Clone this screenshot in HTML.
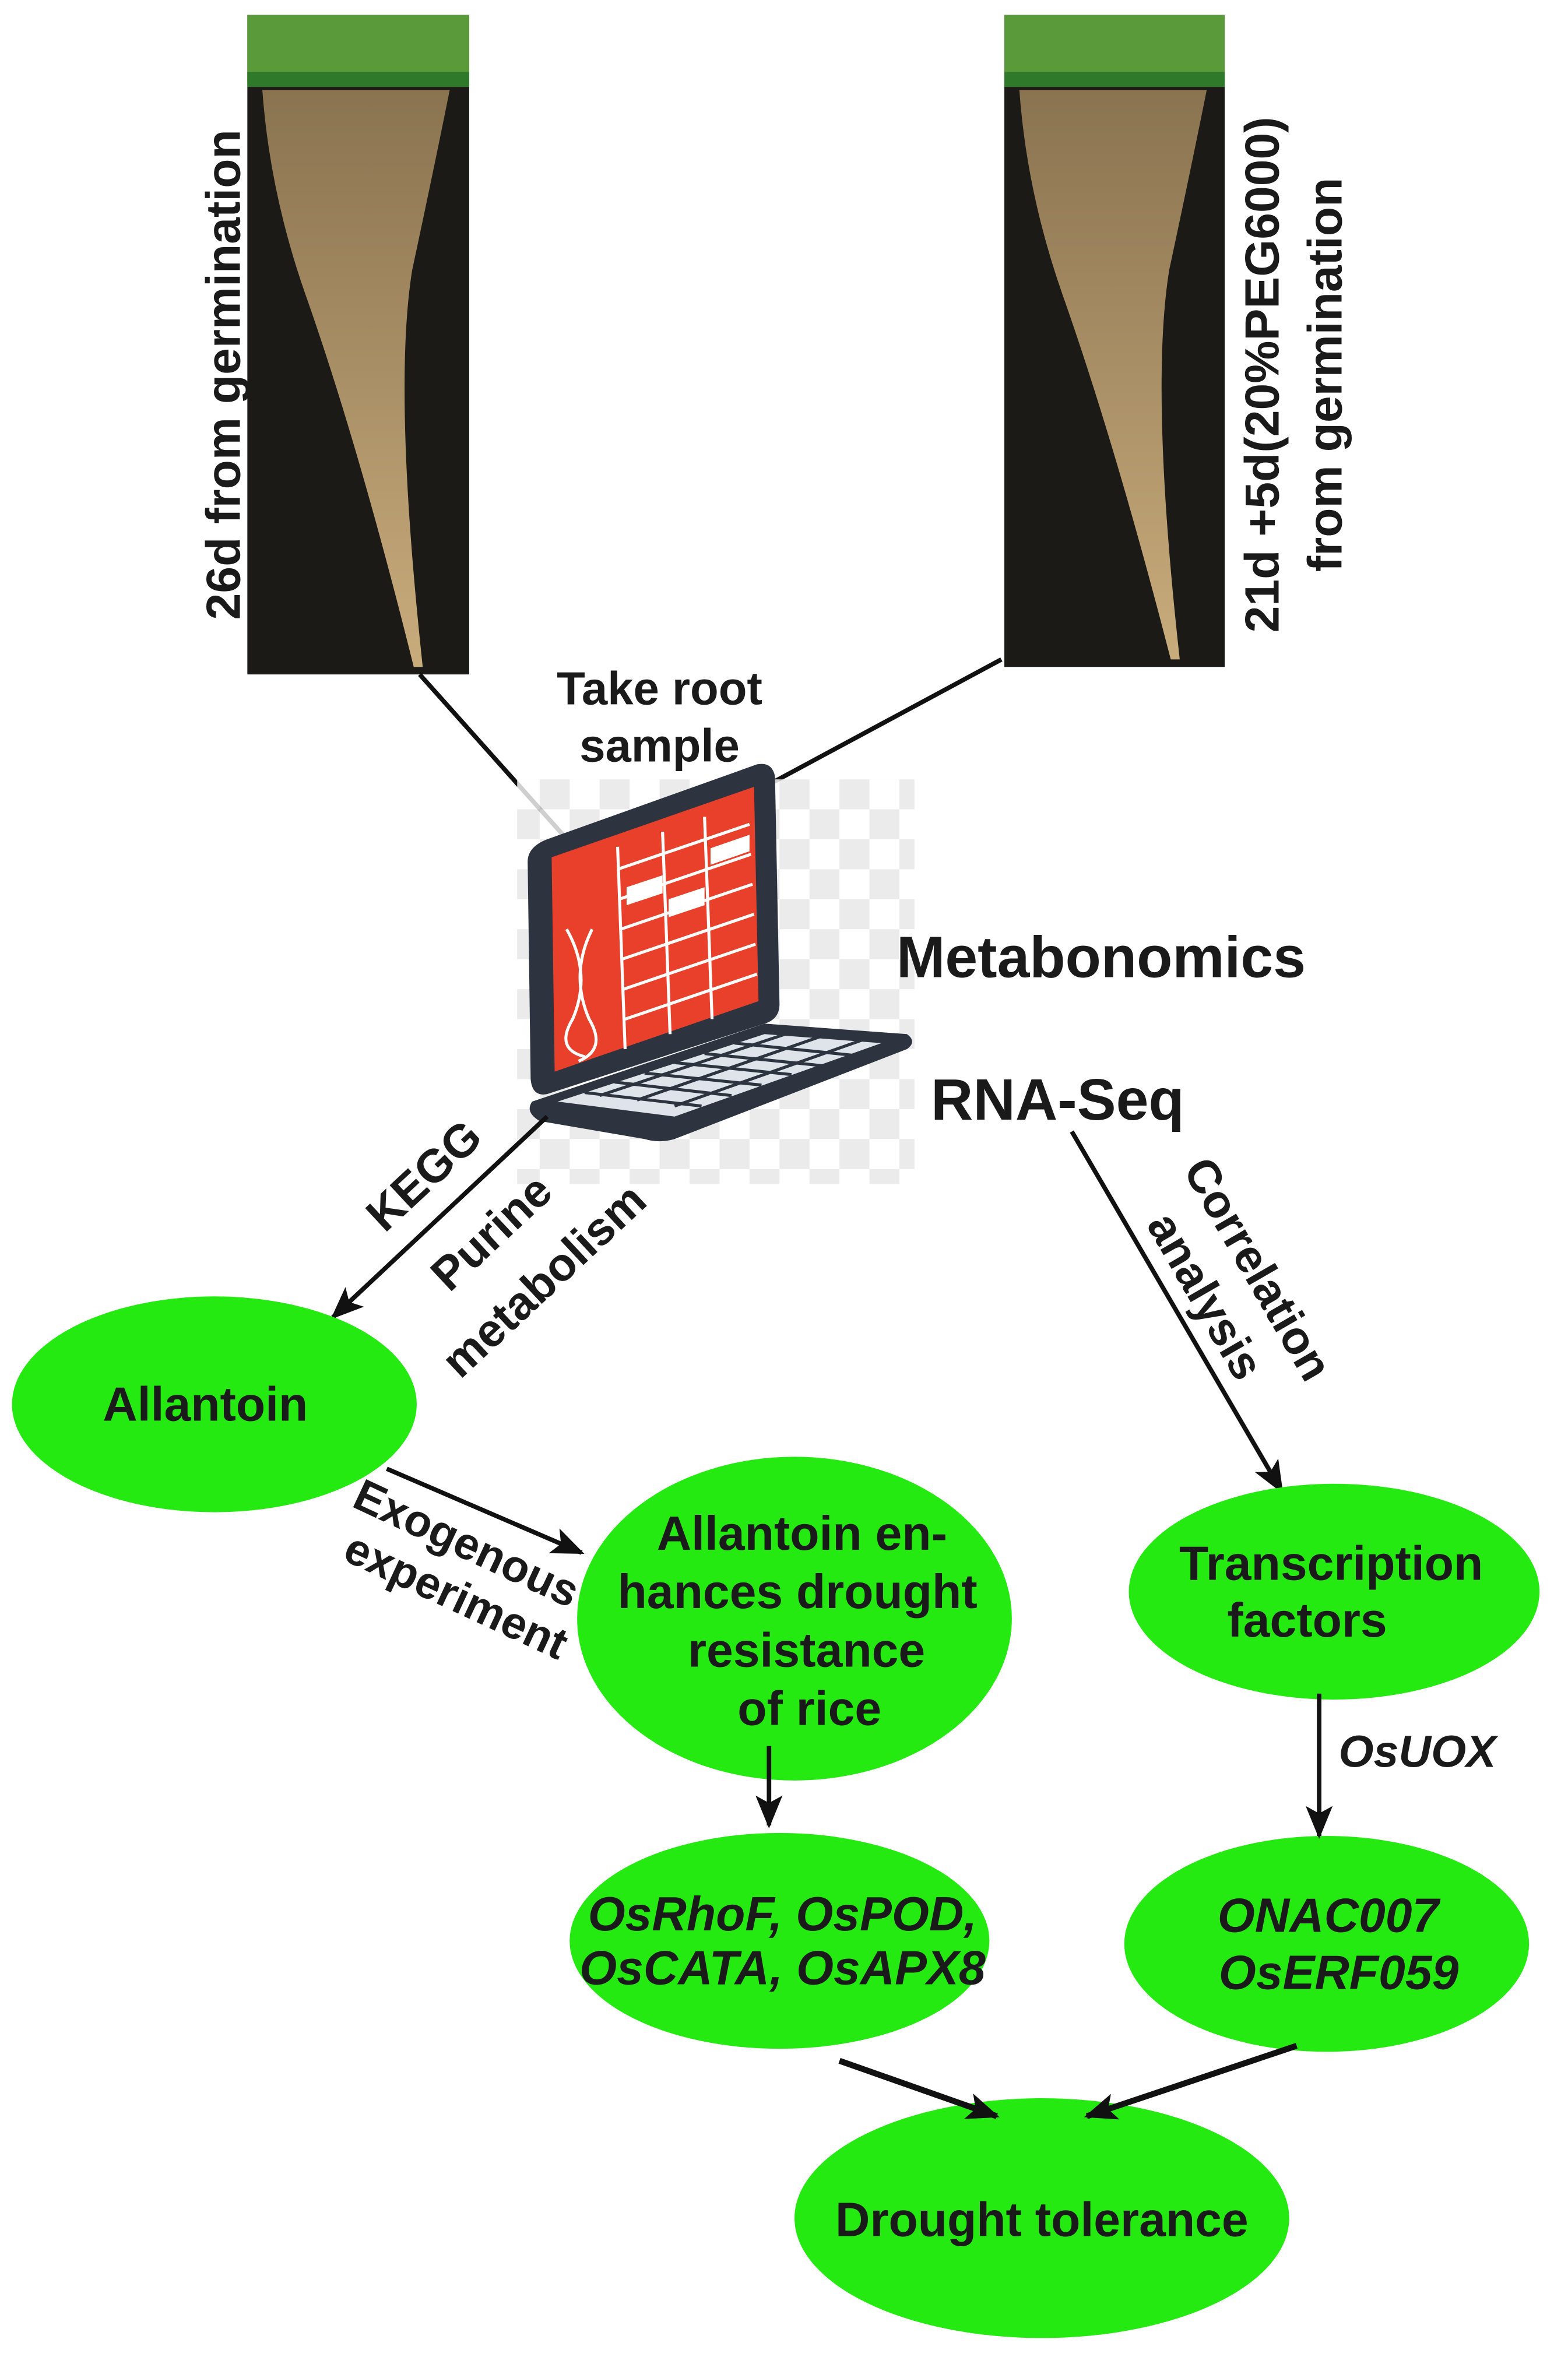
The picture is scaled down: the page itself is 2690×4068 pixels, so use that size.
<!DOCTYPE html>
<html><head><meta charset="utf-8"><style>
html,body{margin:0;padding:0;background:#fff;}
svg{display:block;}
text{font-family:"Liberation Sans",Arial,sans-serif;font-weight:bold;fill:#1a1a1a;}
</style></head><body>
<svg width="2690" height="4068" viewBox="0 0 1046 1582" preserveAspectRatio="none" xmlns="http://www.w3.org/2000/svg">
<defs>
<marker id="ah" markerWidth="22" markerHeight="18" refX="20" refY="9" orient="auto" markerUnits="userSpaceOnUse">
<path d="M0,0 L22,9 L0,18 L5,9 Z" fill="#111"/></marker>
<linearGradient id="root" x1="0" x2="0" y1="0" y2="1"><stop offset="0" stop-color="#8a7350"/><stop offset="1" stop-color="#c9ac7c"/></linearGradient>
<pattern id="chk" width="40" height="40" patternUnits="userSpaceOnUse"><rect width="40" height="40" fill="#fff"/><rect width="20" height="20" fill="#e6e6e6"/><rect x="20" y="20" width="20" height="20" fill="#e6e6e6"/></pattern>
</defs>
<rect width="1046" height="1582" fill="#fff"/>

<g>
<rect x="165" y="10" width="148" height="440" fill="#1c1a16"/>
<rect x="165" y="10" width="148" height="45" fill="#5a9a3a"/>
<rect x="165" y="48" width="148" height="10" fill="#2f7a2a"/>
<path d="M175,60 L300,60 Q290,110 275,180 Q262,260 282,445 L276,445 Q240,300 205,200 Q180,130 175,60 Z" fill="url(#root)"/>
<rect x="670" y="10" width="147" height="435" fill="#1c1a16"/>
<rect x="670" y="10" width="147" height="45" fill="#5a9a3a"/>
<rect x="670" y="48" width="147" height="10" fill="#2f7a2a"/>
<path d="M680,60 L805,60 Q795,110 780,180 Q767,260 787,440 L781,440 Q745,300 710,200 Q685,130 680,60 Z" fill="url(#root)"/>
</g>
<text transform="translate(160,250) rotate(-90)" font-size="32" text-anchor="middle">26d from germination</text>
<text transform="translate(853,250) rotate(-90)" font-size="32" text-anchor="middle">21d +5d(20%PEG6000)</text>
<text transform="translate(895,250) rotate(-90)" font-size="32" text-anchor="middle">from germination</text>

<line x1="280" y1="450" x2="405" y2="590" stroke="#111" stroke-width="3"/>
<line x1="668" y1="440" x2="510" y2="525" stroke="#111" stroke-width="3"/>
<text x="440" y="470" font-size="31" text-anchor="middle">Take root</text>
<text x="440" y="508" font-size="31" text-anchor="middle">sample</text>

<rect x="345" y="520" width="265" height="270" fill="url(#chk)" opacity="0.8"/>
<path d="M365,560 L505,510 Q515,508 517,518 L520,670 Q520,680 510,683 L365,730 Q355,732 354,720 L352,575 Q352,565 365,560 Z" fill="#2d3440"/>
<path d="M368,572 L503,525 L506,668 L370,715 Z" fill="#e8402a"/>
<g stroke="#fff" stroke-width="2" fill="none">
<path d="M412,580 L500,550 M413,600 L501,570 M414,620 L502,590 M415,640 L503,610 M416,660 L504,630 M417,680 L505,650"/>
<path d="M412,565 L417,700 M442,555 L447,690 M470,545 L475,680"/>
<path d="M378,620 Q395,650 382,680 Q370,700 390,705 M395,620 Q380,650 393,680 Q405,700 386,708"/>
</g>
<path d="M418,592 L442,584 L442,596 L418,604 Z M446,600 L470,592 L470,604 L446,612 Z M474,566 L500,557 L500,568 L474,577 Z" fill="#fff"/>
<path d="M355,735 L510,683 L605,690 Q612,695 605,700 L450,760 Q440,763 430,760 L360,748 Q350,742 355,735 Z" fill="#2d3440"/>
<path d="M372,735 L510,690 L588,696 L450,745 Z" fill="#dfe4ea"/>
<g stroke="#2d3440" stroke-width="2"><path d="M390,729 L468,738 M410,722 L488,731 M430,716 L508,724 M450,709 L528,717 M470,703 L548,711 M490,696 L568,704"/>
<path d="M400,731 L530,688 M425,734 L552,690 M450,738 L575,694"/></g>

<text x="598" y="652" font-size="39">Metabonomics</text>
<text x="621" y="747" font-size="39">RNA-Seq</text>

<line x1="365" y1="745" x2="222" y2="879" stroke="#111" stroke-width="3" marker-end="url(#ah)"/>
<text transform="translate(290,792) rotate(-43)" font-size="31" text-anchor="middle">KEGG</text>
<text transform="translate(335,830) rotate(-43)" font-size="31" text-anchor="middle">Purine</text>
<text transform="translate(370,862) rotate(-43)" font-size="31" text-anchor="middle">metabolism</text>
<line x1="715" y1="755" x2="855" y2="995" stroke="#111" stroke-width="3" marker-end="url(#ah)"/>
<text transform="translate(830,852) rotate(60)" font-size="31" text-anchor="middle">Correlation</text>
<text transform="translate(795,870) rotate(60)" font-size="31" text-anchor="middle">analysis</text>

<line x1="258" y1="980" x2="388" y2="1036" stroke="#111" stroke-width="3" marker-end="url(#ah)"/>
<text transform="translate(307,1039) rotate(25)" font-size="30" text-anchor="middle">Exogenous</text>
<text transform="translate(300,1074) rotate(25)" font-size="30" text-anchor="middle">experiment</text>

<g fill="#25ea12">
<ellipse cx="143" cy="937" rx="135" ry="72"/>
<ellipse cx="530" cy="1080" rx="145" ry="108"/>
<ellipse cx="890" cy="1062" rx="137" ry="72"/>
<ellipse cx="520" cy="1295" rx="140" ry="72"/>
<ellipse cx="885" cy="1297" rx="135" ry="72"/>
<ellipse cx="695" cy="1480" rx="165" ry="80"/>
</g>

<line x1="513" y1="1165" x2="513" y2="1218" stroke="#111" stroke-width="3" marker-end="url(#ah)"/>
<line x1="880" y1="1130" x2="880" y2="1225" stroke="#111" stroke-width="3" marker-end="url(#ah)"/>
<text x="893" y="1179" font-size="30" font-style="italic">OsUOX</text>
<line x1="560" y1="1375" x2="665" y2="1412" stroke="#111" stroke-width="4" marker-end="url(#ah)"/>
<line x1="865" y1="1365" x2="725" y2="1412" stroke="#111" stroke-width="4" marker-end="url(#ah)"/>

<g font-size="32" text-anchor="middle">
<text x="137" y="948">Allantoin</text>
<text x="535" y="1034">Allantoin en-</text>
<text x="532" y="1073">hances drought</text>
<text x="538" y="1112">resistance</text>
<text x="540" y="1151">of rice</text>
<text x="888" y="1054">Transcription</text>
<text x="872" y="1092">factors</text>
<text x="522" y="1288" font-style="italic">OsRhoF, OsPOD,</text>
<text x="522" y="1324" font-style="italic">OsCATA, OsAPX8</text>
<text x="886" y="1289" font-style="italic">ONAC007</text>
<text x="893" y="1327" font-style="italic">OsERF059</text>
<text x="695" y="1492">Drought tolerance</text>
</g>
</svg>
</body></html>
